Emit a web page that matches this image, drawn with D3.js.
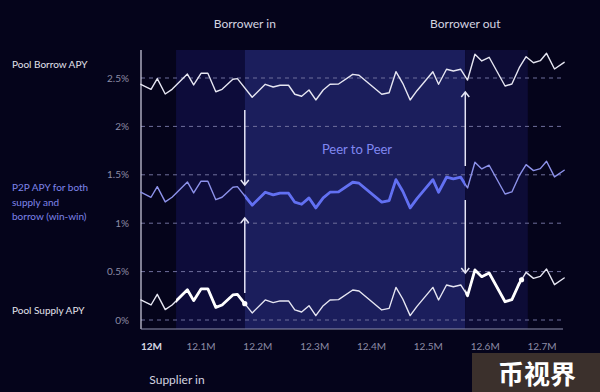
<!DOCTYPE html>
<html>
<head>
<meta charset="utf-8">
<script src="https://cdn.jsdelivr.net/npm/d3@7"></script>
<style>
	body { margin: 0; background: #05041b; }
	svg { display: block; font-family: Lato, "Noto Sans", sans-serif; }
</style>
</head>
<body>
<svg id="chart" width="600" height="392"></svg>
<script>
// liquidity (M) on the x axis
var volume = [11.994, 12.012, 12.023, 12.037, 12.049, 12.076, 12.087, 12.100, 12.112, 12.126,
	12.137, 12.156, 12.164, 12.190, 12.213, 12.227, 12.239, 12.254, 12.265, 12.277,
	12.290, 12.302, 12.315, 12.327, 12.342, 12.367, 12.378, 12.418, 12.431, 12.443,
	12.455, 12.468, 12.480, 12.508, 12.518, 12.532, 12.544, 12.557, 12.569, 12.582,
	12.594, 12.607, 12.635, 12.647, 12.660, 12.672, 12.685, 12.697, 12.708, 12.722,
	12.739];

// APY in %
var poolBorrow = [2.435, 2.383, 2.493, 2.335, 2.383, 2.541, 2.428, 2.549, 2.549, 2.358,
	2.383, 2.487, 2.493, 2.301, 2.435, 2.407, 2.425, 2.425, 2.332, 2.311,
	2.376, 2.273, 2.376, 2.435, 2.438, 2.538, 2.528, 2.332, 2.348, 2.565,
	2.445, 2.273, 2.369, 2.565, 2.435, 2.590, 2.572, 2.590, 2.479, 2.745,
	2.676, 2.714, 2.417, 2.438, 2.606, 2.720, 2.658, 2.679, 2.755, 2.593,
	2.662];
var p2p = [1.320, 1.268, 1.378, 1.220, 1.268, 1.426, 1.313, 1.434, 1.434, 1.243,
	1.268, 1.372, 1.378, 1.186, 1.320, 1.292, 1.310, 1.310, 1.217, 1.196,
	1.261, 1.158, 1.261, 1.320, 1.323, 1.423, 1.413, 1.217, 1.233, 1.450,
	1.330, 1.158, 1.254, 1.450, 1.320, 1.475, 1.457, 1.475, 1.364, 1.630,
	1.561, 1.599, 1.302, 1.323, 1.491, 1.605, 1.543, 1.564, 1.640, 1.478,
	1.547];
var poolSupply = [0.207, 0.155, 0.265, 0.107, 0.155, 0.313, 0.200, 0.321, 0.321, 0.130,
	0.155, 0.259, 0.265, 0.073, 0.207, 0.179, 0.197, 0.197, 0.104, 0.083,
	0.148, 0.045, 0.148, 0.207, 0.210, 0.310, 0.300, 0.104, 0.120, 0.337,
	0.217, 0.045, 0.141, 0.337, 0.207, 0.362, 0.344, 0.362, 0.251, 0.517,
	0.448, 0.486, 0.189, 0.210, 0.378, 0.492, 0.430, 0.451, 0.527, 0.365,
	0.434];

var yTicks = [0, 0.5, 1, 1.5, 2, 2.5];
var yTickLabels = ["0%", "0.5%", "1%", "1.5%", "2%", "2.5%"];
var xTicks = [12, 12.1, 12.2, 12.3, 12.4, 12.5, 12.6, 12.7];
var xTickLabels = ["12M", "12.1M", "12.2M", "12.3M", "12.4M", "12.5M", "12.6M", "12.7M"];

// events along the x axis
var eventNames = ["Supplier in", "Borrower in", "Borrower out", "Supplier out"];
var eventAt = [12.056, 12.177, 12.565, 12.675];
var supplierOutDot = 12.664;

// arrows at the borrower events: [x, from %, to %]
var arrows = [[12.177, 2.169, 1.395], [12.177, 0.279, 1.054], [12.565, 1.591, 2.355], [12.565, 1.240, 0.486]];

var svg = d3.select("#chart");
var x = d3.scaleLinear().domain([12, 12.7]).range([144.2, 542]);
var y = d3.scaleLinear().domain([0, 2.5]).range([320, 78]);
var pLeft = 141, pRight = 563, pTop = 50, pBottom = 329;

svg.append("rect").attr("width", 600).attr("height", 392).attr("fill", "#05041b");

// phase shading
var shades = [[eventAt[0], eventAt[1], "#0d0c3a"], [eventAt[1], eventAt[2], "#1b1e5c"], [eventAt[2], eventAt[3], "#0d0c36"]];
svg.selectAll(".phase").data(shades).enter().append("rect")
	.attr("class", "phase")
	.attr("x", function(d) { return x(d[0]); })
	.attr("width", function(d) { return x(d[1]) - x(d[0]); })
	.attr("y", pTop).attr("height", pBottom - pTop)
	.attr("fill", function(d) { return d[2]; });

// grid
svg.selectAll(".grid").data(yTicks).enter().append("line")
	.attr("class", "grid")
	.attr("x1", pLeft).attr("x2", pRight)
	.attr("y1", function(d) { return y(d); }).attr("y2", function(d) { return y(d); })
	.attr("stroke", "#6f6f9c").attr("stroke-width", 1).attr("stroke-dasharray", "4,4");

svg.selectAll(".ytick").data(yTicks).enter().append("text")
	.attr("class", "ytick")
	.attr("x", 129).attr("y", function(d) { return y(d) + 3.5; })
	.attr("text-anchor", "end").attr("font-size", 10).attr("fill", "#8d8ca6")
	.text(function(d, i) { return yTickLabels[i]; });

svg.selectAll(".xtick").data(xTicks).enter().append("text")
	.attr("class", "xtick")
	.attr("x", function(d, i) { return i == 0 ? pLeft : x(d); }).attr("y", 350)
	.attr("text-anchor", function(d, i) { return i == 0 ? "start" : "middle"; })
	.attr("font-size", 10)
	.attr("font-weight", function(d, i) { return i == 0 ? 700 : 400; })
	.attr("fill", function(d, i) { return i == 0 ? "#d6d6e2" : "#8d8ca6"; })
	.text(function(d, i) { return xTickLabels[i]; });

// axes
svg.append("line").attr("x1", pLeft).attr("x2", pLeft).attr("y1", pTop).attr("y2", pBottom)
	.attr("stroke", "#d4d4e6").attr("stroke-width", 1.2);
svg.append("line").attr("x1", pLeft).attr("x2", pRight).attr("y1", pBottom).attr("y2", pBottom)
	.attr("stroke", "#8f8fb0").attr("stroke-width", 1.2);

// clips for highlighted parts
var defs = svg.append("defs");
function clip(id, ranges) {
	var c = defs.append("clipPath").attr("id", id);
	ranges.forEach(function(r) {
		c.append("rect").attr("x", x(r[0])).attr("width", x(r[1]) - x(r[0]))
			.attr("y", 0).attr("height", 392);
	});
	return "url(#" + id + ")";
}
var clipP2P = clip("clipP2P", [[eventAt[1], eventAt[2]]]);
var clipSupply = clip("clipSupply", [[eventAt[0], eventAt[1]], [eventAt[2], supplierOutDot]]);

function series(vals) {
	return volume.map(function(v, i) { return [v, vals[i]]; });
}
var line = d3.line().x(function(d) { return x(d[0]); }).y(function(d) { return y(d[1]); });

function drawLine(vals, color, w, cp) {
	var p = svg.append("path").datum(series(vals))
		.attr("d", line).attr("fill", "none")
		.attr("stroke", color).attr("stroke-width", w)
		.attr("stroke-linejoin", "round").attr("stroke-linecap", "round");
	if (cp) p.attr("clip-path", cp);
	return p;
}

drawLine(poolBorrow, "#e6e6f2", 1.4);
drawLine(p2p, "#8d92ea", 1.4);
drawLine(p2p, "#6270f2", 2.8, clipP2P);
drawLine(poolSupply, "#e6e6f2", 1.4);
drawLine(poolSupply, "#ffffff", 2.8, clipSupply);

// dots where supply leaves the highlighted parts
function valueAt(vals, v) {
	var i = d3.bisectLeft(volume, v);
	var t = (v - volume[i - 1]) / (volume[i] - volume[i - 1]);
	return vals[i - 1] + t * (vals[i] - vals[i - 1]);
}
svg.selectAll(".dot").data([eventAt[1], supplierOutDot]).enter().append("circle")
	.attr("class", "dot")
	.attr("cx", function(d) { return x(d); })
	.attr("cy", function(d) { return y(valueAt(poolSupply, d)); })
	.attr("r", 2.6).attr("fill", "#ffffff");

// arrows
svg.selectAll(".arrow").data(arrows).enter().append("path")
	.attr("class", "arrow")
	.attr("d", function(d) {
		var xx = x(d[0]), y0 = y(d[1]), y1 = y(d[2]);
		var s = y1 > y0 ? -1 : 1;
		return "M" + xx + "," + y0 + "L" + xx + "," + y1 +
			"M" + (xx - 4) + "," + (y1 + s * 5) + "L" + xx + "," + y1 + "L" + (xx + 4) + "," + (y1 + s * 5);
	})
	.attr("fill", "none").attr("stroke", "#e4e4f4").attr("stroke-width", 1.5);

// labels
svg.append("text").attr("x", x(eventAt[1])).attr("y", 28).attr("text-anchor", "middle")
	.attr("font-size", 12).attr("fill", "#d4d4e0").text(eventNames[1]);
svg.append("text").attr("x", x(eventAt[2])).attr("y", 28).attr("text-anchor", "middle")
	.attr("font-size", 12).attr("fill", "#d4d4e0").text(eventNames[2]);
svg.append("text").attr("x", 177).attr("y", 384).attr("text-anchor", "middle")
	.attr("font-size", 12).attr("fill", "#d4d4e0").text(eventNames[0]);

svg.append("text").attr("x", 357).attr("y", 154).attr("text-anchor", "middle")
	.attr("font-size", 13).attr("fill", "#8088f2").text("Peer to Peer");

svg.append("text").attr("x", 12).attr("y", 68).attr("font-size", 10)
	.attr("fill", "#e2e2ec").text("Pool Borrow APY");
svg.append("text").attr("x", 12).attr("y", 314).attr("font-size", 10)
	.attr("fill", "#e2e2ec").text("Pool Supply APY");
svg.append("text").attr("x", 12).attr("y", 191).attr("font-size", 10)
	.attr("fill", "#7f85ea")
	.selectAll("tspan").data(["P2P APY for both", "supply and", "borrow (win-win)"]).enter()
	.append("tspan").attr("x", 12).attr("dy", function(d, i) { return i ? 14.5 : 0; })
	.text(function(d) { return d; });

// watermark
svg.append("rect").attr("x", 472).attr("y", 353).attr("width", 128).attr("height", 39).attr("fill", "#3b302c");
svg.append("text").attr("x", 537).attr("y", 384).attr("text-anchor", "middle")
	.attr("font-family", "'Noto Sans CJK SC'").attr("font-weight", 700)
	.attr("font-size", 26).attr("fill", "#ffffff").text("币视界");
</script>
</body>
</html>
